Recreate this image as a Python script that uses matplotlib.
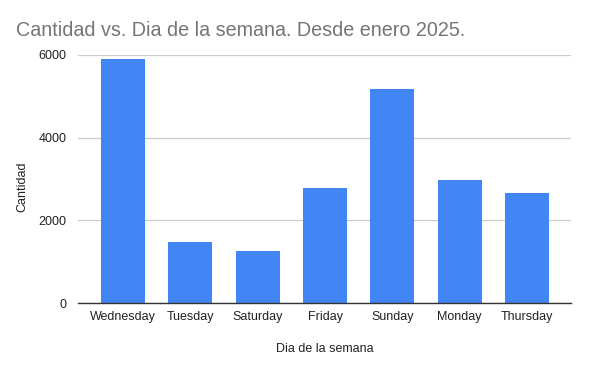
import matplotlib.pyplot as plt

plt.rcParams["font.family"] = ["Liberation Sans", "DejaVu Sans"]

dias = ["Wednesday", "Tuesday", "Saturday", "Friday", "Sunday", "Monday", "Thursday"]
cantidad = [5900, 1485, 1260, 2785, 5180, 2975, 2660]
yticks = [0, 2000, 4000, 6000]

fig = plt.figure(figsize=(5.9, 3.66), dpi=100)
ax = fig.add_axes([0.132, 0.172, 0.836, 0.678])

ax.bar(range(len(dias)), cantidad, width=0.654, color="#4285F4", zorder=3)
ax.set_xlim(-0.669, len(dias) - 1 + 0.654)
ax.set_ylim(0, 6000)
ax.set_yticks(yticks)
ax.set_xticks(range(len(dias)))
ax.set_xticklabels(dias)
ax.tick_params(axis="both", length=0, labelsize=9, colors="#222222")
ax.tick_params(axis="x", pad=6)
ax.tick_params(axis="y", pad=8)
ax.grid(axis="y", color="#cccccc", linewidth=0.9, zorder=0)
for s in ["top", "right", "left"]:
    ax.spines[s].set_visible(False)
ax.spines["bottom"].set_color("#333333")
ax.spines["bottom"].set_linewidth(1)
ax.spines["bottom"].set_zorder(4)

ax.set_xlabel("Dia de la semana", fontsize=9, color="#222222", labelpad=14)
fig.text(0.038, 0.49, "Cantidad", fontsize=9, color="#222222",
         rotation=90, ha="center", va="center")
fig.text(0.027, 0.916, "Cantidad vs. Dia de la semana. Desde enero 2025.",
         fontsize=14.2, color="#757575", ha="left", va="center")

fig.savefig("out.png", dpi=100)
